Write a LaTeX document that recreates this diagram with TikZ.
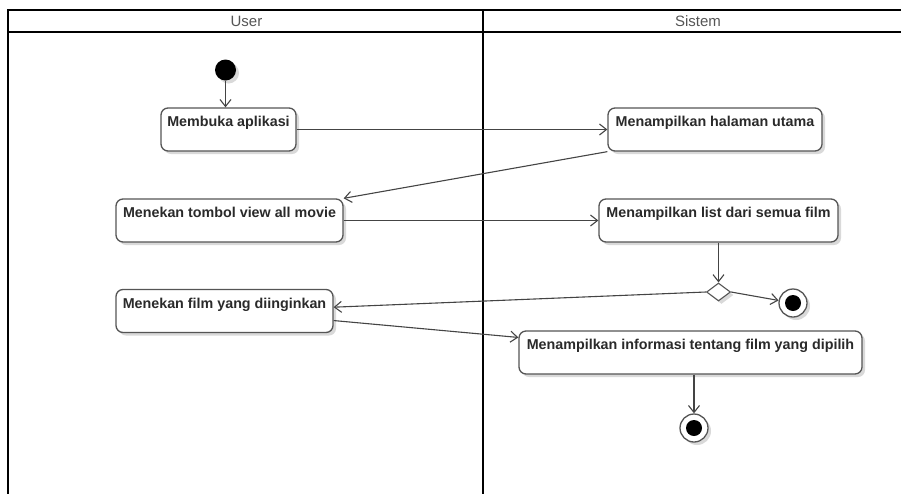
\documentclass[tikz,border=0pt]{standalone}
\usepackage{fontspec}
\setmainfont{Liberation Sans}
\usetikzlibrary{shapes.geometric,shadows,arrows.meta,calc}
\definecolor{boxline}{HTML}{555555}
\definecolor{txt}{HTML}{2A2A2A}
\definecolor{conn}{HTML}{444444}
\begin{document}
\begin{tikzpicture}[x=1pt,y=-1pt,
  act/.style={draw=boxline, line width=1.3pt, rounded corners=7pt, fill=white,
    inner sep=0pt, text height=18.5pt, text depth=24.5pt,
    font=\fontsize{14.3}{16}\selectfont\bfseries, text=txt,
    drop shadow={shadow xshift=3pt, shadow yshift=-3pt, fill=black!25, opacity=0.6}},
  flow/.style={draw=conn, line width=1.1pt, -{Straight Barb[length=7pt,width=11pt,line width=1.1pt]}},
  lane/.style={draw=black, line width=1.7pt},
  hdr/.style={font=\fontsize{15}{17}\selectfont, text=boxline}
]
\useasboundingbox (0,0) rectangle (901,493);
\clip (0,0) rectangle (901,493);
% swimlanes
\draw[lane] (8,510) -- (8,10) -- (920,10);
\draw[lane] (8,32) -- (920,32);
\draw[lane] (483,10) -- (483,510);
\node[hdr] (huser) at (246.5,21) {User};
\node[hdr] (hsys) at (698,21) {Sistem};
% start
\node[circle, fill=black, minimum size=21pt, inner sep=0pt,
  drop shadow={shadow xshift=3pt, shadow yshift=-3pt, fill=black!25, opacity=0.6}] (start) at (225.5,70) {};
% activities
\node[act, minimum width=135pt] (buka) at (228.5,129.5) {Membuka aplikasi};
\node[act, minimum width=214pt] (hal) at (715,129.5) {Menampilkan halaman utama};
\node[act, minimum width=227pt] (tombol) at (229.5,220.5) {Menekan tombol view all movie};
\node[act, minimum width=239pt] (list) at (718.5,220.5) {Menampilkan list dari semua film};
\node[act, minimum width=217pt] (film) at (224.5,311) {Menekan film yang diinginkan};
\node[act, minimum width=343pt] (info) at (690.5,352.5) {Menampilkan informasi tentang film yang dipilih};
% decision
\node[diamond, draw=boxline, line width=1.1pt, fill=white, minimum width=24pt, minimum height=18pt,
  inner sep=0pt, aspect=1.33,
  drop shadow={shadow xshift=3pt, shadow yshift=-3pt, fill=black!25, opacity=0.6}] (dec) at (718.5,292) {};
% finals
\node[circle, draw=boxline, line width=1.3pt, fill=white, minimum size=28pt, inner sep=0pt,
  drop shadow={shadow xshift=3pt, shadow yshift=-3pt, fill=black!25, opacity=0.6}] (fin1) at (793,303) {};
\node[circle, fill=black, minimum size=16pt, inner sep=0pt] (fin1i) at (fin1) {};
\node[circle, draw=boxline, line width=1.3pt, fill=white, minimum size=28pt, inner sep=0pt,
  drop shadow={shadow xshift=3pt, shadow yshift=-3pt, fill=black!25, opacity=0.6}] (fin2) at (694,428) {};
\node[circle, fill=black, minimum size=16pt, inner sep=0pt] (fin2i) at (fin2) {};
% flows
\draw[flow] (start) -- (start |- buka.north);
\draw[flow] (buka.east) -- (hal.west);
\draw[flow] (hal.south west) -- (tombol.north east);
\draw[flow] (tombol.east) -- (list.west);
\draw[flow] (list.south) -- (dec.north);
\draw[flow] (dec.east) -- (fin1);
\draw[flow] (dec.west) -- (film.2);
\draw[flow] (film.-5) -- (info.175);
\draw[flow] (info.south -| fin2.north) -- (fin2.north);
\end{tikzpicture}
\end{document}
